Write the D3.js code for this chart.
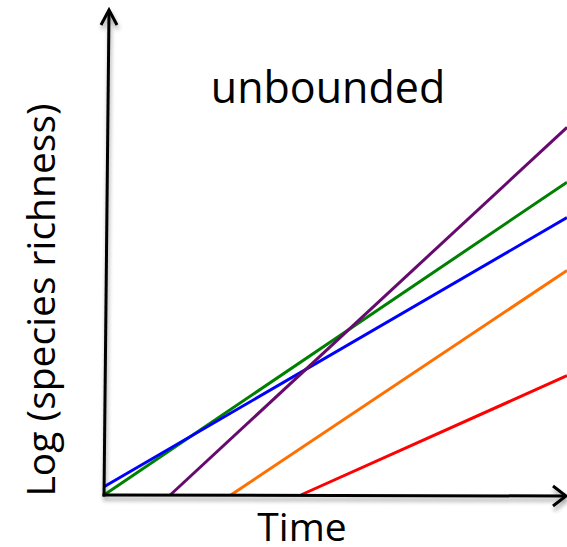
<!DOCTYPE html>
<html>
<head>
<meta charset="utf-8">
<script src="https://cdn.jsdelivr.net/npm/d3@7"></script>
<style>
  html, body { margin: 0; padding: 0; background: #fff; }
  svg { display: block; }
</style>
</head>
<body>
<div id="chart"></div>
<script>
// Conceptual chart: lines of log(species richness) vs time
const seriesNames  = ["green", "blue", "purple", "orange", "red"];
const seriesColors = ["#008000", "#0000ff", "#660a6e", "#ff7000", "#ff0000"];
const startTime    = [0, 0, 14.3, 27.4, 42.5];
const startValue   = [0, 1.7, 0, 0, 0];
const endTime      = [100, 100, 100, 100, 100];
const endValue     = [64.5, 57.2, 75.8, 46.3, 24.6];

const titleText = "unbounded";
const xLabel = "Time";
const yLabel = "Log (species richness)";

const W = 567, H = 547;
const svg = d3.select("#chart").append("svg")
  .attr("width", W).attr("height", H);

const x = d3.scaleLinear().domain([0, 100]).range([104, 567]);
const y = d3.scaleLinear().domain([0, 100]).range([495, 10]);

const defs = svg.append("defs");
const f = defs.append("filter").attr("id", "shadow")
  .attr("x", "-10%").attr("y", "-10%").attr("width", "130%").attr("height", "130%");
f.append("feDropShadow").attr("dx", 1).attr("dy", 4).attr("stdDeviation", 2)
  .attr("flood-color", "#000").attr("flood-opacity", 0.35);

// Data lines
const data = seriesNames.map((n, i) => ({
  name: n, color: seriesColors[i],
  pts: [[startTime[i], startValue[i]], [endTime[i], endValue[i]]]
}));
const line = d3.line().x(d => x(d[0])).y(d => y(d[1]));
svg.append("g").selectAll("path").data(data).join("path")
  .attr("d", d => line(d.pts))
  .attr("fill", "none")
  .attr("stroke", d => d.color)
  .attr("stroke-width", 3);

// Axes (arrows)
const axes = svg.append("g").attr("filter", "url(#shadow)")
  .attr("fill", "none").attr("stroke", "#000").attr("stroke-width", 3)
  .attr("stroke-linecap", "butt");
const x0 = x(0), y0 = y(0);
const xTip = x(100) - 1, yTipX = x0 + 5, yTipY = y(100);
// x axis
axes.append("path").attr("d", `M${x0 - 1.5},${y0} L${xTip},${y0 + 1}`);
axes.append("path").attr("stroke-linejoin", "miter")
  .attr("d", `M${xTip - 13},${y0 - 9} L${xTip},${y0 + 1} L${xTip - 13},${y0 + 11}`);
// y axis
axes.append("path").attr("d", `M${x0},${y0 + 1.5} L${yTipX},${yTipY + 1}`);
axes.append("path").attr("stroke-linejoin", "miter")
  .attr("d", `M${yTipX - 8},${yTipY + 15} L${yTipX},${yTipY} L${yTipX + 8},${yTipY + 15}`);

// Texts
const font = "'Open Sans', 'Noto Sans', sans-serif";
svg.append("text").attr("x", 328).attr("y", 103)
  .attr("text-anchor", "middle").attr("font-family", font)
  .attr("font-size", 43).attr("fill", "#000").text(titleText);

svg.append("text").attr("x", 302).attr("y", 541)
  .attr("text-anchor", "middle").attr("font-family", font)
  .attr("font-size", 39).attr("fill", "#000").text(xLabel);

svg.append("text")
  .attr("transform", "translate(55,300) rotate(-90)")
  .attr("text-anchor", "middle").attr("font-family", font)
  .attr("font-size", 39).attr("fill", "#000").text(yLabel);
</script>
</body>
</html>
